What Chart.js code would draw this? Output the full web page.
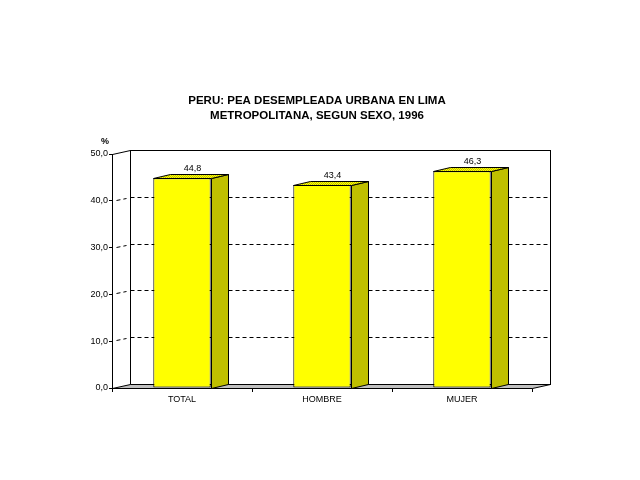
<!DOCTYPE html>
<html>
<head>
<meta charset="utf-8">
<title>PEA desempleada urbana</title>
<script src="https://cdn.jsdelivr.net/npm/chart.js@4.4.0/dist/chart.umd.min.js"></script>
<style>
    body { margin: 0; background: #ffffff; }
    canvas { display: block; }
</style>
</head>
<body>
<canvas id="peaChart" width="640" height="480"></canvas>
<script>
    'use strict';

    // Chart data
    var titleLines = ['PERU: PEA DESEMPLEADA URBANA EN LIMA', 'METROPOLITANA, SEGUN SEXO, 1996'];
    var categories = ['TOTAL', 'HOMBRE', 'MUJER'];
    var values = [44.8, 43.4, 46.3];
    var yTicks = [0, 10, 20, 30, 40, 50];
    var unitLabel = '%';

    var FONT = 'Arial, "Liberation Sans", sans-serif';

    function fmt(v) {
        return v.toFixed(1).replace('.', ',');
    }

    // checkered top face like the old dithered fill
    function makeTopPattern(ctx) {
        var c = document.createElement('canvas');
        c.width = 2;
        c.height = 2;
        var p = c.getContext('2d');
        p.fillStyle = '#ffff00';
        p.fillRect(0, 0, 2, 2);
        p.fillStyle = '#c0c000';
        p.fillRect(0, 0, 1, 1);
        p.fillRect(1, 1, 1, 1);
        return ctx.createPattern(c, 'repeat');
    }

    var frame3d = {
        id: 'frame3d',
        beforeDatasetsDraw: function (chart, args, opts) {
            var ctx = chart.ctx;
            var a = chart.chartArea;
            var y = chart.scales.y;
            var dx = opts.dx, dy = opts.dy;
            var L = Math.round(a.left) + 0.5, R = Math.round(a.right) + 0.5;
            var T = Math.round(a.top) + 0.5, B = Math.round(a.bottom) + 0.5;

            ctx.save();
            ctx.lineWidth = 1;
            ctx.strokeStyle = '#000000';

            // back wall
            ctx.fillStyle = '#ffffff';
            ctx.fillRect(L + dx, T + dy, R - L, B - T);
            ctx.strokeRect(L + dx, T + dy, R - L, B - T);

            // dashed grid on back wall and left wall
            ctx.setLineDash([4, 3]);
            yTicks.forEach(function (v) {
                if (v === yTicks[0] || v === yTicks[yTicks.length - 1]) return;
                var py = Math.round(y.getPixelForValue(v)) + 0.5;
                ctx.beginPath();
                ctx.moveTo(L + dx, py + dy);
                ctx.lineTo(R + dx, py + dy);
                ctx.stroke();
                ctx.beginPath();
                ctx.moveTo(L + 4, py - 1);
                ctx.lineTo(L + dx - 4, py + dy + 1);
                ctx.stroke();
            });
            ctx.setLineDash([]);

            // left wall top edge
            ctx.beginPath();
            ctx.moveTo(L, T);
            ctx.lineTo(L + dx, T + dy);
            ctx.stroke();

            // floor
            ctx.fillStyle = '#c0c0c0';
            ctx.beginPath();
            ctx.moveTo(L, B);
            ctx.lineTo(R, B);
            ctx.lineTo(R + dx, B + dy);
            ctx.lineTo(L + dx, B + dy);
            ctx.closePath();
            ctx.fill();
            ctx.stroke();
            ctx.restore();
        },
        afterDatasetsDraw: function (chart, args, opts) {
            var ctx = chart.ctx;
            var meta = chart.getDatasetMeta(0);
            var dx = opts.dx - 1, dy = opts.dy;
            var topFill = makeTopPattern(ctx);

            ctx.save();
            ctx.lineWidth = 1;
            ctx.strokeStyle = '#000000';
            meta.data.forEach(function (bar, i) {
                var l = Math.round(bar.x - bar.width / 2) + 0.5;
                var r = Math.round(bar.x + bar.width / 2) + 0.5;
                var t = Math.round(bar.y) + 0.5;
                var b = Math.round(bar.base) + 0.5;

                // side face
                ctx.fillStyle = '#c0c000';
                ctx.beginPath();
                ctx.moveTo(r, t);
                ctx.lineTo(r + dx, t + dy);
                ctx.lineTo(r + dx, b + dy);
                ctx.lineTo(r, b);
                ctx.closePath();
                ctx.fill();
                ctx.stroke();

                // top face
                ctx.fillStyle = topFill;
                ctx.beginPath();
                ctx.moveTo(l, t);
                ctx.lineTo(l + dx, t + dy);
                ctx.lineTo(r + dx, t + dy);
                ctx.lineTo(r, t);
                ctx.closePath();
                ctx.fill();
                ctx.stroke();

                // value label
                ctx.fillStyle = '#000000';
                ctx.font = '9px ' + FONT;
                ctx.textAlign = 'center';
                ctx.textBaseline = 'alphabetic';
                ctx.fillText(fmt(values[i]), bar.x + dx / 2 + 2, t + dy - 4);
            });
            ctx.restore();
        },
        afterDraw: function (chart) {
            var ctx = chart.ctx;
            ctx.save();
            ctx.fillStyle = '#000000';
            ctx.textAlign = 'center';
            ctx.textBaseline = 'middle';
            ctx.font = 'bold 11.5px ' + FONT;
            titleLines.forEach(function (line, i) {
                ctx.fillText(line, 317, 101 + i * 15);
            });
            ctx.font = 'bold 9px ' + FONT;
            ctx.fillText(unitLabel, 105, 142);
            ctx.restore();
        }
    };

    var ctx = document.getElementById('peaChart');
    var peaChart = new Chart(ctx, {
        type: 'bar',
        data: {
            labels: categories,
            datasets: [{
                data: values,
                backgroundColor: '#ffff00',
                borderColor: '#000000',
                borderWidth: 1,
                borderSkipped: false,
                barPercentage: 0.41,
                categoryPercentage: 1
            }]
        },
        options: {
            responsive: false,
            animation: false,
            layout: {
                padding: { top: 154, right: 108, bottom: 0, left: 0 }
            },
            plugins: {
                legend: { display: false },
                tooltip: { enabled: false },
                title: { display: false },
                frame3d: { dx: 18, dy: -4 }
            },
            scales: {
                x: {
                    afterFit: function (scale) { scale.height = 92; },
                    grid: {
                        display: true,
                        drawOnChartArea: false,
                        drawTicks: true,
                        tickLength: 4,
                        color: '#000000',
                        offset: true
                    },
                    border: { display: true, color: '#000000' },
                    ticks: {
                        color: '#000000',
                        padding: 2,
                        font: { family: FONT, size: 9 }
                    }
                },
                y: {
                    min: yTicks[0],
                    max: yTicks[yTicks.length - 1],
                    afterFit: function (scale) { scale.width = 112; },
                    afterBuildTicks: function (scale) {
                        scale.ticks = yTicks.map(function (v) { return { value: v }; });
                    },
                    grid: {
                        display: true,
                        drawOnChartArea: false,
                        drawTicks: true,
                        tickLength: 3,
                        color: '#000000'
                    },
                    border: { display: true, color: '#000000' },
                    ticks: {
                        color: '#000000',
                        padding: 1,
                        font: { family: FONT, size: 9 },
                        callback: function (v) { return fmt(v); }
                    }
                }
            }
        },
        plugins: [frame3d]
    });
</script>
</body>
</html>
